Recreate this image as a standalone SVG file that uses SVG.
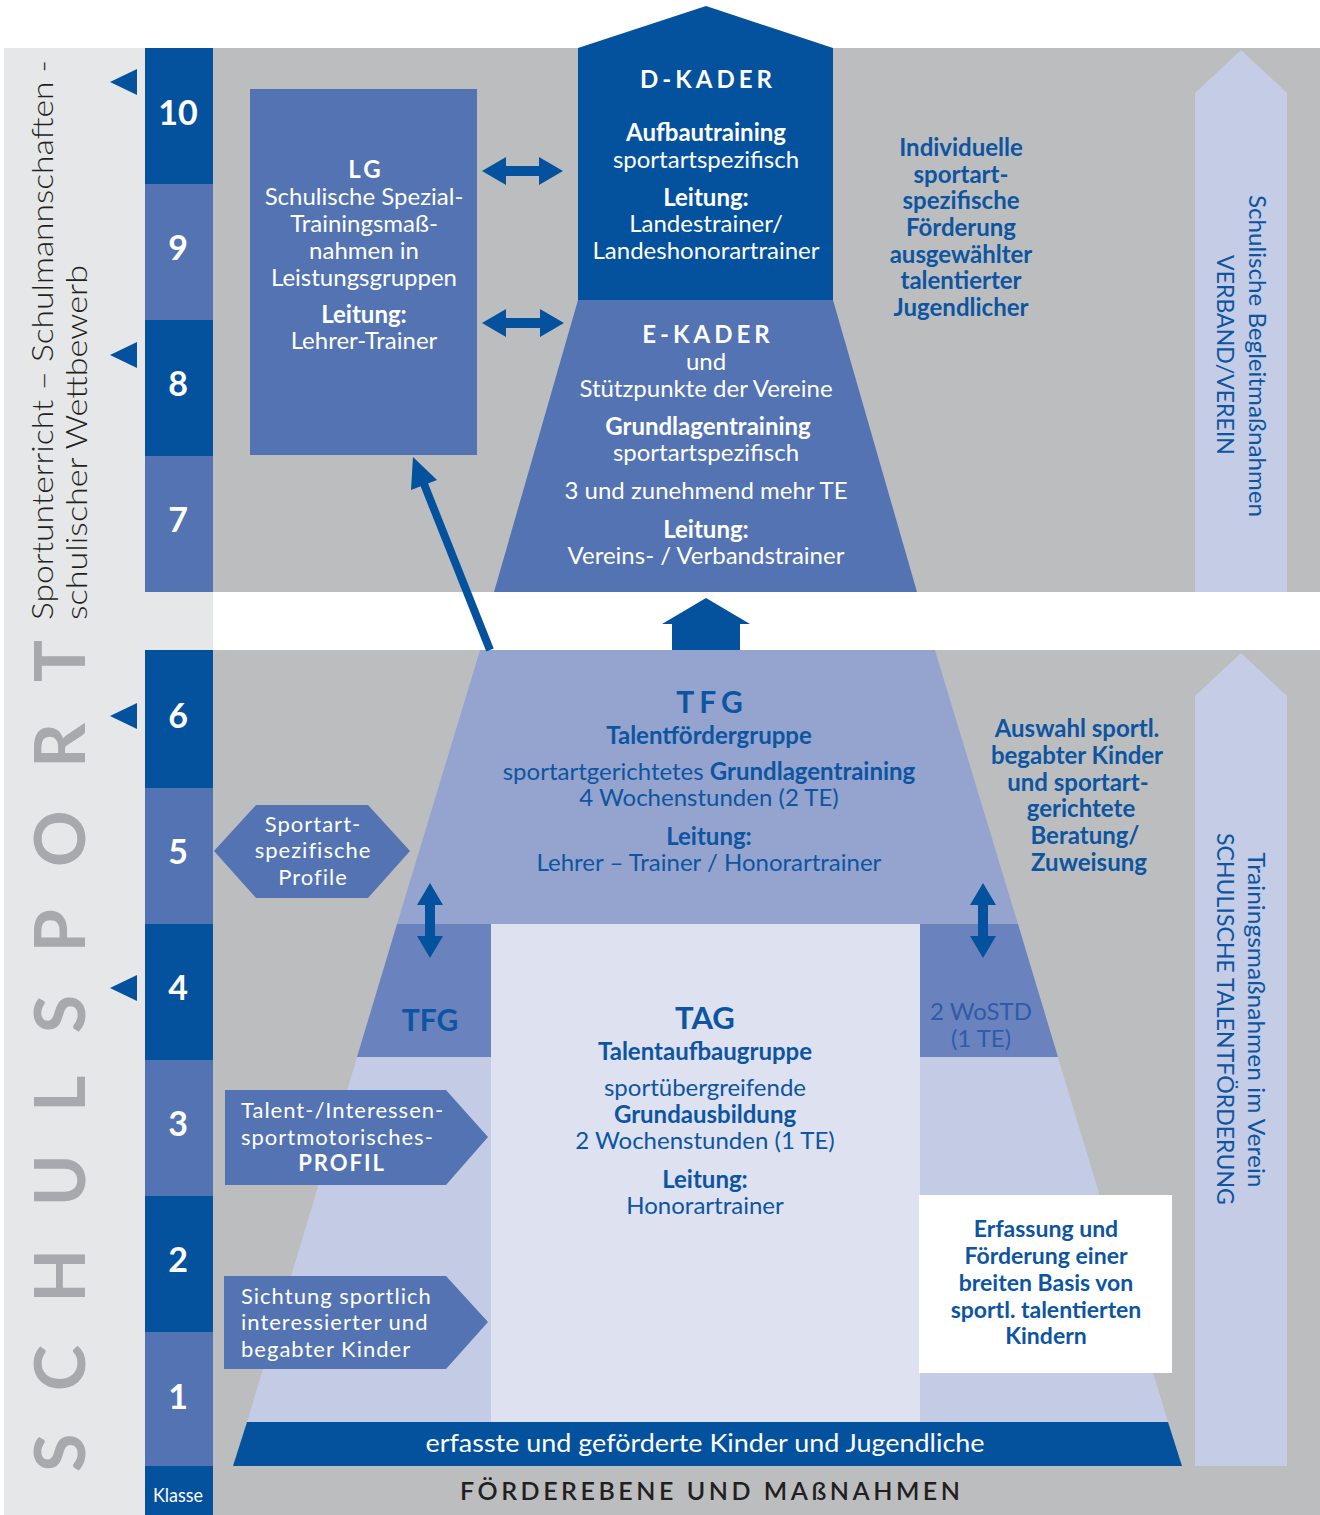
<svg xmlns="http://www.w3.org/2000/svg" width="1320" height="1515" viewBox="0 0 1320 1515">
<style>
text{font-family:Lato,'Liberation Sans',sans-serif;font-size:24px;text-anchor:middle}
.w{fill:#fff}
.bl{fill:#0d55a1}
.bd{font-weight:700}
.num{font-size:34px;font-weight:700;fill:#fff}
.dk{fill:#04519e}
.md{fill:#5373b3}
.lf{font-size:22px;letter-spacing:1px;fill:#fff;text-anchor:start}
.rot{font-size:23px;fill:#0d55a1}
</style>
<rect x="0" y="0" width="1320" height="1515" fill="#fff"/>
<rect x="4" y="48" width="209" height="1467" fill="#e6e7e8"/>
<rect x="213" y="48" width="1107" height="544" fill="#bcbdbf"/>
<rect x="213" y="650" width="1107" height="865" fill="#bcbdbf"/>

<g id="side-labels">
<text transform="translate(53,620) rotate(-90)" style="font-size:30px;font-weight:300;fill:#231f20;text-anchor:start" textLength="560" lengthAdjust="spacingAndGlyphs">Sportunterricht – Schulmannschaften -</text>
<text transform="translate(87,620) rotate(-90)" style="font-size:30px;font-weight:300;fill:#231f20;text-anchor:start" textLength="355" lengthAdjust="spacingAndGlyphs">schulischer Wettbewerb</text>
<text transform="translate(85,1472) rotate(-90)" style="font-size:70px;font-weight:700;fill:#a7a9ac;text-anchor:start" textLength="832" lengthAdjust="spacing">SCHULSPORT</text>
</g>

<g id="klassen">
<rect class="dk" x="145" y="48" width="68" height="136"/>
<rect class="md" x="145" y="184" width="68" height="136"/>
<rect class="dk" x="145" y="320" width="68" height="136"/>
<rect class="md" x="145" y="456" width="68" height="136"/>
<rect class="dk" x="145" y="650" width="68" height="138"/>
<rect class="md" x="145" y="788" width="68" height="136"/>
<rect class="dk" x="145" y="924" width="68" height="136"/>
<rect class="md" x="145" y="1060" width="68" height="136"/>
<rect class="dk" x="145" y="1196" width="68" height="136"/>
<rect class="md" x="145" y="1332" width="68" height="134"/>
<rect class="dk" x="145" y="1466" width="68" height="49"/>
<text class="num" x="178" y="125">10</text>
<text class="num" x="178" y="260">9</text>
<text class="num" x="178" y="396">8</text>
<text class="num" x="178" y="532">7</text>
<text class="num" x="178" y="728">6</text>
<text class="num" x="178" y="864">5</text>
<text class="num" x="178" y="1000">4</text>
<text class="num" x="178" y="1136">3</text>
<text class="num" x="178" y="1272">2</text>
<text class="num" x="178" y="1409">1</text>
<text x="178" y="1502" style="font-size:20px;fill:#fff" textLength="50" lengthAdjust="spacingAndGlyphs">Klasse</text>
<polygon class="dk" points="110,82 137,69 137,95"/>
<polygon class="dk" points="110,355 137,342 137,368"/>
<polygon class="dk" points="110,716 137,703 137,729"/>
<polygon class="dk" points="110,988 137,975 137,1001"/>
</g>

<g id="begleit-top">
<polygon points="1195,93 1241,50 1287,93 1287,592 1195,592" fill="#c5cce6"/>
<text class="rot" transform="translate(1249,356) rotate(90)" textLength="322" lengthAdjust="spacingAndGlyphs">Schulische Begleitmaßnahmen</text>
<text class="rot" transform="translate(1217,355) rotate(90)" textLength="200" lengthAdjust="spacingAndGlyphs">VERBAND/VEREIN</text>
</g>

<g id="begleit-bottom">
<polygon points="1195,696 1241,653 1287,696 1287,1466 1195,1466" fill="#c5cce6"/>
<text class="rot" transform="translate(1248,1020) rotate(90)" textLength="335" lengthAdjust="spacingAndGlyphs">Trainingsmaßnahmen im Verein</text>
<text class="rot" transform="translate(1217,1019) rotate(90)" textLength="372" lengthAdjust="spacingAndGlyphs">SCHULISCHE TALENTFÖRDERUNG</text>
</g>

<g id="d-kader">
<polygon class="dk" points="578,48 706,6 833,48 833,300 578,300"/>
<text class="w bd" x="708" y="88" style="letter-spacing:4px">D-KADER</text>
<text class="w bd" x="706" y="141">Aufbautraining</text>
<text class="w" x="706" y="168">sportartspezifisch</text>
<text class="w bd" x="706" y="206">Leitung:</text>
<text class="w" x="706" y="232">Landestrainer/</text>
<text class="w" x="706" y="259">Landeshonorartrainer</text>
</g>

<g id="e-kader">
<polygon class="md" points="578,300 833,300 917,592 494,592"/>
<text class="w bd" x="708" y="343" style="letter-spacing:4px">E-KADER</text>
<text class="w" x="706" y="370">und</text>
<text class="w" x="706" y="397">Stützpunkte der Vereine</text>
<text class="w bd" x="708" y="435">Grundlagentraining</text>
<text class="w" x="706" y="461">sportartspezifisch</text>
<text class="w" x="706" y="499">3 und zunehmend mehr TE</text>
<text class="w bd" x="706" y="538">Leitung:</text>
<text class="w" x="706" y="564">Vereins- / Verbandstrainer</text>
</g>

<g id="lg">
<rect class="md" x="250" y="89" width="227" height="366"/>
<text class="w bd" x="366" y="178" style="letter-spacing:3px">LG</text>
<text class="w" x="364" y="205">Schulische Spezial-</text>
<text class="w" x="364" y="232">Trainingsmaß-</text>
<text class="w" x="364" y="259">nahmen in</text>
<text class="w" x="364" y="286">Leistungsgruppen</text>
<text class="w bd" x="364" y="323">Leitung:</text>
<text class="w" x="364" y="349">Lehrer-Trainer</text>
</g>

<g id="individuelle">
<text class="bl bd" x="961" y="156">Individuelle</text>
<text class="bl bd" x="961" y="183">sportart-</text>
<text class="bl bd" x="961" y="209">spezifische</text>
<text class="bl bd" x="961" y="236">Förderung</text>
<text class="bl bd" x="961" y="263">ausgewählter</text>
<text class="bl bd" x="961" y="289">talentierter</text>
<text class="bl bd" x="961" y="316">Jugendlicher</text>
</g>

<g id="pyramide">
<polygon points="480,650 935,650 1168,1422 247,1422" fill="#c4cbe5"/>
<polygon points="480,650 935,650 1018,924 397,924" fill="#94a4cf"/>
<polygon points="397,924 1018,924 1058,1057 357,1057" fill="#6a82be"/>
</g>

<g id="tfg">
<text class="bl bd" x="712" y="713" style="font-size:30px;letter-spacing:5px">TFG</text>
<text class="bl bd" x="709" y="744">Talentfördergruppe</text>
<text class="bl" x="709" y="780">sportartgerichtetes <tspan class="bd">Grundlagentraining</tspan></text>
<text class="bl" x="709" y="806">4 Wochenstunden (2 TE)</text>
<text class="bl bd" x="709" y="845">Leitung:</text>
<text class="bl" x="709" y="871">Lehrer – Trainer / Honorartrainer</text>
</g>

<g id="tfg-klein">
<text class="bl bd" x="430" y="1031" style="font-size:30px">TFG</text>
<text x="981" y="1020" style="fill:#2f5ca8">2 WoSTD</text>
<text x="981" y="1047" style="fill:#2f5ca8">(1 TE)</text>
</g>

<g id="tag">
<rect x="491" y="924" width="429" height="498" fill="#dde1f0"/>
<text class="bl bd" x="705" y="1029" style="font-size:31px">TAG</text>
<text class="bl bd" x="705" y="1060">Talentaufbaugruppe</text>
<text class="bl" x="705" y="1096">sportübergreifende</text>
<text class="bl bd" x="705" y="1123">Grundausbildung</text>
<text class="bl" x="705" y="1149">2 Wochenstunden (1 TE)</text>
<text class="bl bd" x="705" y="1188">Leitung:</text>
<text class="bl" x="705" y="1214">Honorartrainer</text>
</g>

<g id="auswahl">
<text class="bl bd" x="1077" y="737">Auswahl sportl.</text>
<text class="bl bd" x="1077" y="764">begabter Kinder</text>
<text class="bl bd" x="1078" y="791">und sportart-</text>
<text class="bl bd" x="1081" y="817">gerichtete</text>
<text class="bl bd" x="1085" y="844">Beratung/</text>
<text class="bl bd" x="1089" y="871">Zuweisung</text>
</g>

<g id="erfassung">
<rect x="919" y="1195" width="253" height="178" fill="#fff"/>
<text class="bl bd" x="1046" y="1237" style="font-size:23px">Erfassung und</text>
<text class="bl bd" x="1046" y="1264" style="font-size:23px">Förderung einer</text>
<text class="bl bd" x="1046" y="1291" style="font-size:23px">breiten Basis von</text>
<text class="bl bd" x="1046" y="1318" style="font-size:23px">sportl. talentierten</text>
<text class="bl bd" x="1046" y="1344" style="font-size:23px">Kindern</text>
</g>

<g id="profile">
<polygon class="md" points="214,851 256,805 368,805 410,851 368,898 256,898"/>
<text class="w" x="313" y="832" style="font-size:22px;letter-spacing:1px">Sportart-</text>
<text class="w" x="313" y="858" style="font-size:22px;letter-spacing:1px">spezifische</text>
<text class="w" x="313" y="885" style="font-size:22px;letter-spacing:1px">Profile</text>
</g>

<g id="talent-profil">
<polygon class="md" points="225,1090 446,1090 488,1137 446,1185 225,1185"/>
<text class="lf" x="241" y="1118">Talent-/Interessen-</text>
<text class="lf" x="241" y="1145">sportmotorisches-</text>
<text class="w bd" x="342" y="1171" style="font-size:22px;letter-spacing:2px">PROFIL</text>
</g>

<g id="sichtung">
<polygon class="md" points="224,1276 446,1276 488,1322 446,1369 224,1369"/>
<text class="lf" x="241" y="1304">Sichtung sportlich</text>
<text class="lf" x="241" y="1330">interessierter und</text>
<text class="lf" x="241" y="1357">begabter Kinder</text>
</g>

<g id="basis">
<polygon class="dk" points="247,1422 1168,1422 1182,1466 233,1466"/>
<text class="w" x="705" y="1452" style="font-size:25px" textLength="559" lengthAdjust="spacingAndGlyphs">erfasste und geförderte Kinder und Jugendliche</text>
<text x="710" y="1500" style="font-size:25px;font-weight:600;fill:#231f20" textLength="500" lengthAdjust="spacing">FÖRDEREBENE UND MAßNAHMEN</text>
</g>

<g id="connectors" class="dk">
<polygon points="482,171 506,157 506,166 539,166 539,157 563,171 539,185 539,176 506,176 506,185"/>
<polygon points="482,323 506,309 506,318 540,318 540,309 564,323 540,337 540,328 506,328 506,337"/>
<line x1="490" y1="650" x2="424" y2="484" stroke="#04519e" stroke-width="8"/>
<polygon points="413,457 437,480 411,490"/>
<polygon points="706,598 750,624 740,624 740,650 672,650 672,624 662,624"/>
<polygon points="430,883 443,905 435,905 435,936 443,936 430,958 417,936 425,936 425,905 417,905"/>
<polygon points="983,883 996,905 988,905 988,936 996,936 983,958 970,936 978,936 978,905 970,905"/>
</g>
</svg>
